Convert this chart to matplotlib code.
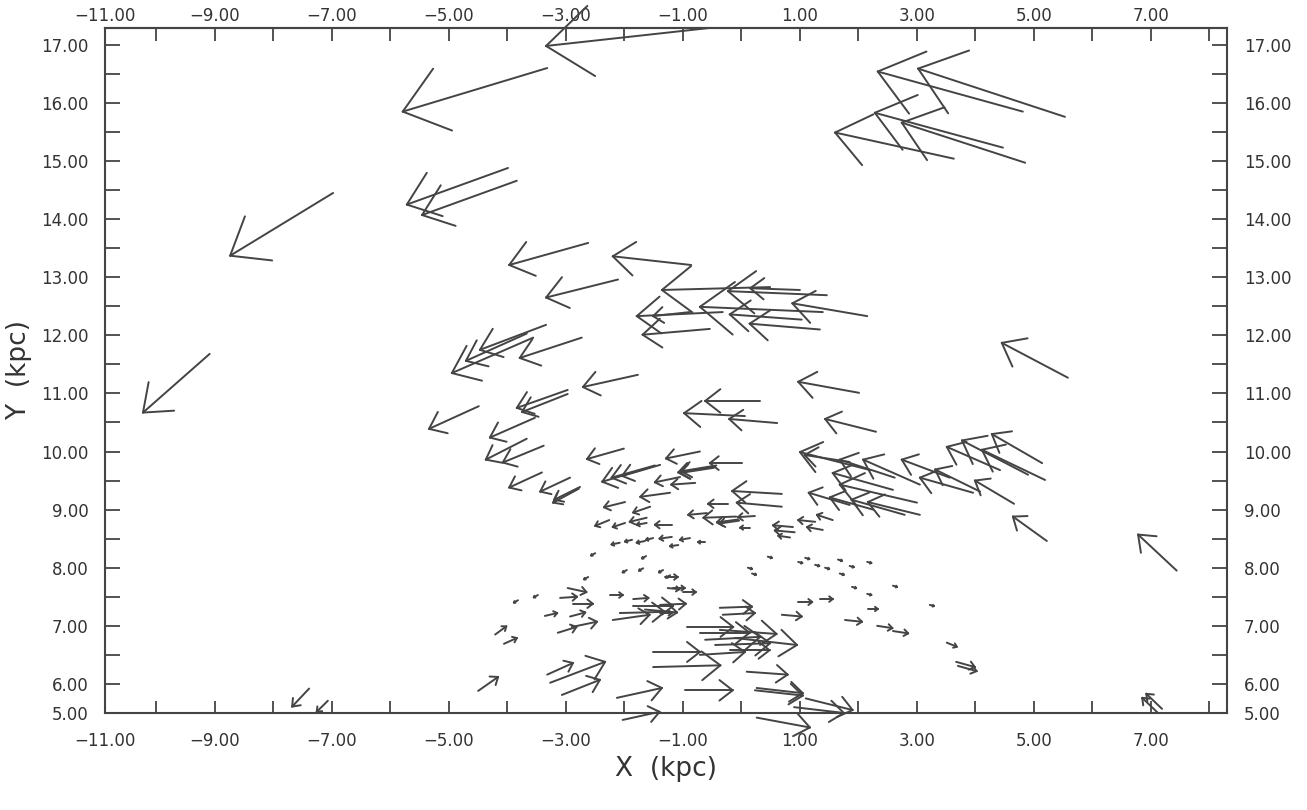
import numpy as np
import matplotlib.pyplot as plt
from matplotlib.collections import LineCollection

# star positions (kpc) and their velocity vectors drawn in kpc units
x = [-6.98, -9.09, -3.32, -0.54, -3.99, -3.84, 4.81, 5.53, 3.63, 4.47, 4.85,
     -2.62, -2.11, -0.86,
     0.49, 1.46, 1.00, 1.39, 2.15, 1.03, 1.34, -0.32, -0.54, -0.88,
     -3.56, -3.67, -3.34, -2.73, -1.77, -2.97, -2.97, -4.49, -3.53, -3.67, -3.38, -2.01, -0.71,
     2.01, 0.32, 0.06, 0.61, 2.30, 5.58,
     2.20, 1.85, 2.62, 3.05, 3.56, 4.42, 4.90, 5.19, 5.14, 2.59, 3.00, 2.25, 2.79, 3.05, 1.85, 4.08, 3.96,
     7.44, 5.22, 4.66, 7.12, 7.19, 3.51, 3.70, 3.67, -7.39, -7.07,
     -3.41, -2.93, -2.78, -2.76, -1.99, -2.26, -1.58, -1.48, -1.39,
     -1.22, -1.05, -1.56, -1.62, -1.99, -1.62, -1.19, -2.08, -1.87, -1.65, -1.51, -1.19, -0.88,
     -0.79, -0.45, -0.43, -0.47, 0.01, 0.69, -0.23, 0.69, -0.59, -0.09, -0.06, -0.04, 0.23, 0.15,
     0.88, 0.91, 0.83, 1.26, 1.39, 1.56, -1.08, -0.62,
     0.97, 1.09, 1.26, 1.43, 1.65, 1.85, 1.68, 2.15, 1.89, 2.15, 2.59, 3.22, 0.45, 0.11, 0.18,
     -3.82, -3.48, -2.50, -2.62, -1.96, -1.68, -1.63, -1.34, -1.22,
     -2.97, -3.10, -2.88, -3.36, -2.93, -3.14, -2.90, -4.21, -4.06, -2.25, -1.85, -2.20, -2.08,
     -1.85, -1.65, -1.31, -1.17,
     -4.50, -3.32, -3.27, -3.07, -2.13, -2.03,
     -1.26, -1.00, -1.39, -1.39, -0.37, -0.32, 0.69, 0.97, 1.34, 1.77, 2.16, 2.32, 2.59,
     -0.93, -0.71, -0.62, -0.45, -0.37, -0.11, -0.20, -0.71, -1.51, -1.51, 0.09, -0.97, 0.23, 0.26,
     0.26, 0.90, 1.10]
y = [14.45, 11.68, 16.60, 17.29, 14.88, 14.66, 15.85, 15.76, 15.04, 15.23, 14.97,
     13.59, 12.96, 13.21,
     12.83, 12.69, 12.78, 12.40, 12.33, 12.27, 12.10, 12.40, 12.11, 12.40,
     11.96, 12.03, 12.18, 11.96, 11.32, 11.06, 10.99, 10.78, 10.58, 10.22, 10.10, 10.05, 10.00,
     11.01, 10.87, 10.61, 10.49, 10.34, 11.27,
     9.68, 9.82, 9.55, 9.43, 9.55, 9.68, 9.60, 9.51, 9.80, 9.34, 9.12, 9.00, 8.91, 8.91, 9.08, 9.31, 9.29,
     7.95, 8.46, 9.10, 5.50, 5.57, 6.71, 6.31, 6.38, 5.92, 5.71,
     9.64, 9.55, 9.36, 9.39, 9.13, 8.82, 9.72, 9.76, 9.77,
     9.29, 9.56, 9.05, 8.86, 8.77, 8.77, 8.74, 8.43, 8.48, 8.46, 8.51, 8.53, 8.51,
     9.46, 9.74, 9.76, 9.72, 9.80, 9.27, 9.10, 9.05, 8.94, 8.88, 8.83, 8.81, 8.89, 8.69,
     8.70, 8.61, 8.52, 8.79, 8.65, 8.82, 8.39, 8.44,
     8.10, 8.17, 8.05, 8.00, 8.14, 8.03, 7.90, 8.10, 7.67, 7.55, 7.69, 7.36, 8.19, 8.00, 7.90,
     7.44, 7.53, 8.25, 7.84, 7.96, 7.99, 8.20, 7.96, 7.87,
     7.65, 7.48, 7.38, 7.17, 7.16, 6.88, 6.98, 6.85, 6.69, 7.53, 7.46, 7.10, 7.22,
     7.34, 7.28, 7.84, 7.65,
     5.88, 6.16, 6.02, 5.81, 5.76, 5.38,
     7.65, 7.58, 7.36, 7.22, 7.31, 7.19, 7.19, 7.41, 7.46, 7.10, 7.29, 7.00, 6.91,
     6.98, 6.88, 6.76, 6.67, 6.93, 6.79, 6.58, 6.50, 6.55, 6.29, 6.21, 5.89, 5.89, 5.93,
     5.42, 5.60, 5.75]
u = [-1.76, -1.14, -2.47, -2.80, -1.73, -1.62, -2.48, -2.51, -2.03, -2.19, -2.11,
     -1.35, -1.23, -1.34,
     -1.85, -1.69, -0.85, -2.10, -1.28, -1.23, -1.20, -1.47, -1.15, -0.63,
     -1.39, -1.04, -1.13, -1.06, -0.94, -0.87, -0.78, -0.85, -0.77, -0.70, -0.70, -0.63, -0.58,
     -1.04, -0.94, -1.04, -0.82, -0.87, -1.13,
     -1.20, -0.77, -0.94, -0.97, -0.82, -0.91, -1.13, -1.08, -0.86, -1.03, -1.32, -0.74, -0.91, -0.89, -0.70, -0.77, -0.91,
     -0.66, -0.58, -0.67, -0.27, -0.27, 0.17, 0.32, 0.32, -0.29, -0.19,
     -0.56, -0.51, -0.44, -0.44, -0.36, -0.24, -0.80, -0.74, -0.65,
     -0.51, -0.43, -0.29, -0.29, -0.21, -0.17, -0.29, -0.14, -0.12, -0.14, -0.12, -0.21, -0.17,
     -0.41, -0.63, -0.60, -0.58, -0.55, -0.85, -0.34, -0.77, -0.32, -0.56, -0.36, -0.34, -0.29, -0.17,
     -0.34, -0.34, -0.20, -0.29, -0.27, -0.27, -0.14, -0.12,
     0.07, 0.07, 0.07, 0.07, 0.07, 0.07, 0.07, 0.07, 0.07, 0.07, 0.07, 0.07, 0.07, 0.07, 0.07,
     -0.07, -0.07, -0.07, -0.07, -0.07, -0.07, -0.07, -0.07, -0.07,
     0.32, 0.29, 0.34, 0.21, 0.26, 0.32, 0.43, 0.19, 0.22, 0.22, 0.26, 0.63, 0.77,
     0.68, 0.55, 0.22, 0.20,
     0.34, 0.44, 0.94, 0.65, 0.77, 0.63,
     0.20, 0.22, 0.44, 0.20, 0.55, 0.55, 0.34, 0.24, 0.22, 0.29, 0.17, 0.26, 0.26,
     0.79, 0.85, 0.94, 0.94, 0.97, 1.06, 0.68, 0.77, 0.80, 1.15, 0.70, 0.82, 0.82, 0.79,
     0.91, 0.85, 0.80]
v = [-1.08, -1.01, -0.75, -0.31, -0.63, -0.59, 0.69, 0.83, 0.45, 0.60, 0.69,
     -0.38, -0.31, 0.15,
     -0.05, 0.07, 0.03, 0.09, 0.22, 0.09, 0.10, -0.07, -0.10, -0.07,
     -0.61, -0.47, -0.43, -0.35, -0.21, -0.31, -0.31, -0.39, -0.34, -0.36, -0.29, -0.18, -0.12,
     0.19, 0.00, 0.05, 0.07, 0.22, 0.60,
     0.31, 0.12, 0.31, 0.43, 0.31, 0.40, 0.59, 0.52, 0.50, 0.29, 0.31, 0.21, 0.26, 0.22, 0.21, 0.38, 0.26,
     0.62, 0.42, 0.40, 0.26, 0.26, -0.07, -0.09, -0.09, -0.31, -0.19,
     -0.26, -0.24, -0.24, -0.22, -0.09, -0.10, -0.24, -0.21, -0.19,
     -0.07, -0.09, -0.10, -0.07, -0.07, -0.03, 0.00, -0.03, -0.03, -0.03, -0.03, -0.03, -0.03,
     -0.03, -0.10, -0.10, -0.09, 0.00, 0.05, 0.00, 0.07, -0.03, -0.02, -0.05, -0.05, -0.02, 0.00,
     0.03, 0.03, 0.03, 0.03, 0.05, 0.09, -0.02, 0.00,
     -0.02, -0.02, -0.02, -0.02, -0.02, -0.02, -0.02, -0.02, -0.02, -0.02, -0.02, -0.02, -0.02, -0.02, -0.02,
     -0.04, -0.04, -0.04, -0.04, -0.04, -0.04, -0.04, -0.04, -0.04,
     -0.07, 0.02, 0.00, 0.05, 0.07, 0.10, 0.09, 0.14, 0.10, 0.00, 0.02, 0.09, 0.02,
     0.00, -0.05, 0.00, 0.00,
     0.24, 0.20, 0.36, 0.26, 0.17, 0.14,
     -0.02, 0.00, 0.02, 0.00, 0.02, 0.03, -0.03, 0.00, 0.00, -0.03, 0.00, -0.04, -0.04,
     0.00, 0.00, 0.05, 0.03, -0.07, -0.12, 0.00, 0.05, 0.00, 0.03, -0.05, 0.00, -0.09, -0.09,
     -0.17, -0.10, -0.20]

x_ticks = [-10.88, -9, -7, -5, -3, -1, 1, 3, 5, 7]
x_labels = ['\u221211.00', '\u22129.00', '\u22127.00', '\u22125.00', '\u22123.00',
            '\u22121.00', '1.00', '3.00', '5.00', '7.00']
y_ticks = [5.5, 6, 7, 8, 9, 10, 11, 12, 13, 14, 15, 16, 17]
y_labels = ['5.00', '6.00', '7.00', '8.00', '9.00', '10.00', '11.00', '12.00',
            '13.00', '14.00', '15.00', '16.00', '17.00']

x = np.array(x); y = np.array(y); u = np.array(u); v = np.array(v)

ink = '#444444'
fig = plt.figure(figsize=(13.07, 8.10), dpi=100)
ax = fig.add_axes([0.0803, 0.1198, 0.8585, 0.8457])
ax.set_xlim(-10.88, 8.3)
ax.set_ylim(5.5, 17.29)

# open "V" heads, size proportional to the vector length
hx = x + u
hy = y + v
L = np.hypot(u, v)
bx, by = -u / L, -v / L
ang = np.deg2rad(38)
segs = []
for i in range(len(x)):
    segs.append([(x[i], y[i]), (hx[i], hy[i])])
    for s in (1, -1):
        c, sn = np.cos(s * ang), np.sin(s * ang)
        rx = (bx[i] * c - by[i] * sn) * 0.35 * L[i]
        ry = (bx[i] * sn + by[i] * c) * 0.35 * L[i]
        segs.append([(hx[i], hy[i]), (hx[i] + rx, hy[i] + ry)])
lc = LineCollection(segs, colors=ink, linewidths=1.4, capstyle='round')
lc.set_clip_on(False)
ax.add_collection(lc)

for sp in ax.spines.values():
    sp.set_color(ink)
    sp.set_linewidth(1.5)

ax.set_xticks(x_ticks)
ax.set_xticklabels(x_labels)
ax.set_xticks([-10, -8, -6, -4, -2, 0, 2, 4, 6, 8], minor=True)
ax.set_yticks(y_ticks)
ax.set_yticklabels(y_labels)
ax.set_yticks(np.arange(6.5, 17.1, 1.0), minor=True)

ax.tick_params(axis='both', which='both', direction='in', width=1.3, color=ink,
               right=True, labelright=True, labelsize=12, labelcolor='#333333')
ax.tick_params(axis='x', which='both', length=9)
ax.tick_params(axis='x', which='major', pad=14)
ax.tick_params(axis='y', which='both', length=11)
ax.tick_params(axis='y', which='major', pad=12)

# top axis carries the same labels, closer to the frame
top = ax.secondary_xaxis('top')
top.set_xticks(x_ticks)
top.set_xticklabels(x_labels)
top.set_xticks([-10, -8, -6, -4, -2, 0, 2, 4, 6, 8], minor=True)
top.tick_params(axis='x', which='both', direction='in', length=9, width=1.3, color=ink,
                labelsize=12, labelcolor='#333333', pad=2)
top.spines['top'].set_color(ink)
top.spines['top'].set_linewidth(1.5)

ax.set_xlabel('X  (kpc)', fontsize=19, color='#333333', labelpad=4)
ax.set_ylabel('Y  (kpc)', fontsize=19, color='#333333', labelpad=6)

fig.savefig('out.png', dpi=100)
